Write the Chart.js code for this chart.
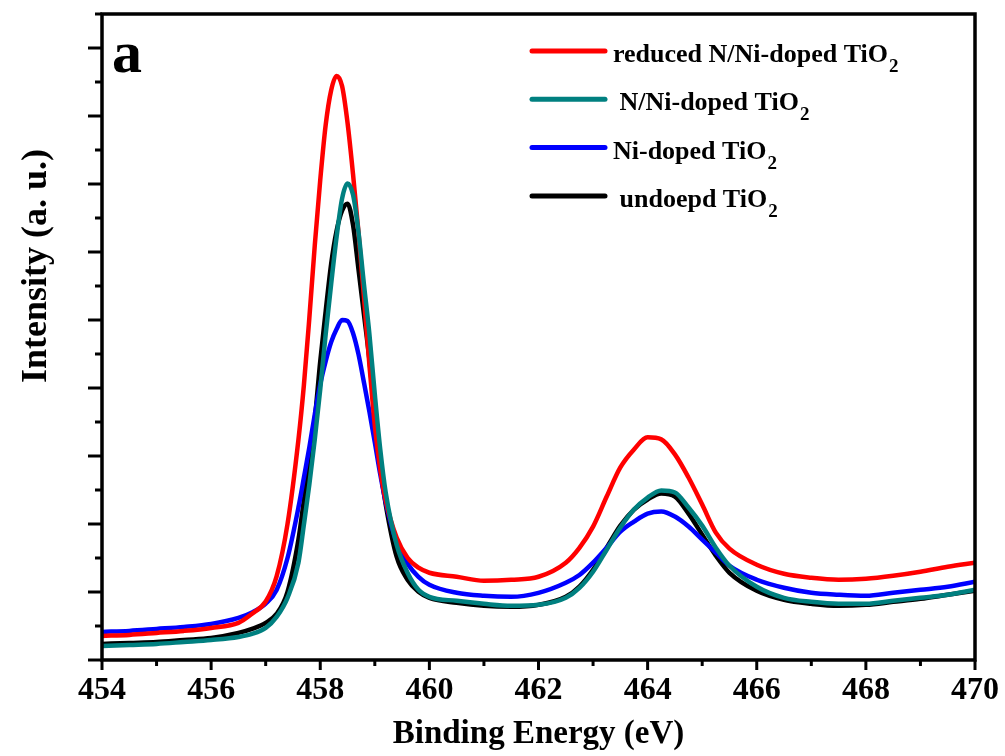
<!DOCTYPE html>
<html>
<head>
<meta charset="utf-8">
<script src="https://cdn.jsdelivr.net/npm/chart.js@4"></script>
<style>
html, body { margin: 0; padding: 0; background: #ffffff; }
#wrap { width: 1005px; height: 756px; position: relative; }
</style>
</head>
<body>
<div id="wrap"><canvas id="c"></canvas></div>
<script>
// Binding energy grid (eV)
const energies = [454, 454.5, 455, 455.5, 456, 456.5, 456.75, 457, 457.2, 457.4, 457.6, 457.7, 457.8, 457.9,
  458.0, 458.1, 458.2, 458.3, 458.4, 458.5, 458.6, 458.7, 458.8, 458.9,
  459.0, 459.1, 459.2, 459.4, 459.6, 459.8,
  460, 460.5, 461, 461.5, 462, 462.5, 462.75,
  463, 463.25, 463.5, 463.75, 464, 464.25, 464.5, 464.75, 465, 465.25, 465.5,
  466, 466.5, 467, 467.5, 468, 468.5, 469, 469.5, 470];

// Intensities (a. u.)
const reducedNNiDoped = [354, 369, 398, 428, 472, 545, 680, 860, 1230, 2000, 3240, 4040, 5030, 6100,
  7060, 7870, 8380, 8590, 8440, 7900, 7150, 6300, 5350, 4350,
  3450, 2800, 2350, 1799, 1504, 1357,
  1283, 1224, 1165, 1180, 1224, 1431, 1650,
  1962, 2404, 2832, 3097, 3274, 3245, 3024, 2684, 2286, 1873, 1637,
  1401, 1268, 1209, 1180, 1195, 1239, 1298, 1372, 1431];

const nNiDoped = [206, 221, 236, 265, 295, 339, 383, 472, 634, 914, 1431, 1990, 2581, 3245,
  3982, 4793, 5530, 6225, 6785, 7006, 6844, 6298, 5530, 4800,
  3909, 3097, 2463, 1696, 1283, 1032,
  929, 870, 826, 796, 811, 914, 1060,
  1298, 1622, 1947, 2212, 2389, 2493, 2463, 2242, 1976, 1652, 1386,
  1077, 914, 855, 826, 826, 870, 914, 959, 1032];

const niDoped = [413, 428, 457, 487, 531, 620, 700, 830, 1030, 1500, 2242, 2680, 3127, 3614,
  4056, 4395, 4675, 4867, 5000, 4985, 4808, 4498, 4085, 3658,
  3201, 2729, 2316, 1726, 1416, 1224,
  1106, 988, 944, 929, 988, 1136, 1250,
  1431, 1652, 1888, 2035, 2153, 2183, 2109, 1962, 1770, 1578, 1386,
  1180, 1062, 988, 959, 944, 988, 1032, 1077, 1150];

const undoped = [236, 251, 265, 295, 324, 398, 457, 546, 678, 1003, 1770, 2350, 2920, 3540,
  4395, 5133, 5826, 6313, 6608, 6711, 6401, 5752, 5088, 4425,
  3614, 2832, 2286, 1519, 1180, 1003,
  914, 841, 796, 782, 811, 929, 1080,
  1327, 1652, 1976, 2212, 2360, 2448, 2404, 2153, 1844, 1534, 1283,
  1018, 885, 826, 796, 811, 855, 900, 959, 1018];

const seriesLabels = ['reduced N/Ni-doped TiO\u2082', ' N/Ni-doped TiO\u2082', 'Ni-doped TiO\u2082', ' undoepd TiO\u2082'];
const seriesColors = ['#ff0000', '#008080', '#0000ff', '#000000'];
const seriesValues = [reducedNNiDoped, nNiDoped, niDoped, undoped];
const drawOrder = [2, 1, 3, 4];

const xTitle = 'Binding Energy (eV)';
const yTitle = 'Intensity (a. u.)';
const panelLetter = 'a';

const SERIF = '"Liberation Serif", "Times New Roman", serif';

const decor = {
  id: 'decor',
  afterDatasetsDraw(chart) {
    const ctx = chart.ctx;
    const ca = chart.chartArea;
    const xs = chart.scales.x, ys = chart.scales.y;
    ctx.save();
    ctx.strokeStyle = '#000';
    ctx.lineCap = 'butt';
    // frame
    ctx.lineWidth = 3.5;
    ctx.strokeRect(ca.left, ca.top, ca.right - ca.left, ca.bottom - ca.top);
    // x ticks (outward)
    ctx.lineWidth = 3;
    xs.ticks.forEach(t => {
      const px = xs.getPixelForValue(t.value);
      const len = (Math.round(t.value) % 2 === 0) ? 10 : 6;
      ctx.beginPath();
      ctx.moveTo(px, ca.bottom);
      ctx.lineTo(px, ca.bottom + len);
      ctx.stroke();
    });
    // y ticks (outward)
    ys.ticks.forEach(t => {
      const py = ys.getPixelForValue(t.value);
      const len = (Math.round(t.value) % 1000 === 0) ? 14 : 7;
      ctx.beginPath();
      ctx.moveTo(ca.left - len, py);
      ctx.lineTo(ca.left, py);
      ctx.stroke();
    });
    // panel letter
    ctx.fillStyle = '#000';
    ctx.font = 'bold 60px ' + SERIF;
    ctx.textAlign = 'left';
    ctx.textBaseline = 'alphabetic';
    ctx.fillText(panelLetter, ca.left + 10, ca.top + 58);
    // y title
    ctx.save();
    ctx.translate(46, 266);
    ctx.rotate(-Math.PI / 2);
    ctx.font = 'bold 36px ' + SERIF;
    ctx.textAlign = 'center';
    ctx.textBaseline = 'alphabetic';
    ctx.fillText(yTitle, 0, 0);
    ctx.restore();
    // legend
    const lx0 = ca.left + 430, lx1 = ca.left + 503, tx = ca.left + 511;
    chart.data.datasets.forEach((ds, i) => {
      const y = ca.top + 37 + i * 48.3;
      ctx.strokeStyle = ds.borderColor;
      ctx.lineWidth = 5;
      ctx.lineCap = 'round';
      ctx.beginPath();
      ctx.moveTo(lx0, y);
      ctx.lineTo(lx1, y);
      ctx.stroke();
      const parts = ds.label.split('\u2082');
      ctx.fillStyle = '#000';
      ctx.font = 'bold 26px ' + SERIF;
      ctx.textAlign = 'left';
      ctx.textBaseline = 'alphabetic';
      ctx.fillText(parts[0], tx, y + 11);
      const w = ctx.measureText(parts[0]).width;
      ctx.font = 'bold 19px ' + SERIF;
      ctx.fillText('2', tx + w + 1, y + 21);
    });
    ctx.restore();
  }
};

const datasets = seriesValues.map((vals, i) => ({
  label: seriesLabels[i],
  data: energies.map((e, j) => ({ x: e, y: vals[j] })),
  borderColor: seriesColors[i],
  backgroundColor: seriesColors[i],
  borderWidth: 4.5,
  pointRadius: 0,
  fill: false,
  cubicInterpolationMode: 'monotone',
  order: drawOrder[i]
}));

new Chart(document.getElementById('c'), {
  type: 'line',
  data: { datasets },
  plugins: [decor],
  options: {
    responsive: true,
    maintainAspectRatio: false,
    devicePixelRatio: 1,
    animation: false,
    events: [],
    layout: { padding: { left: 102, right: 30, top: 14, bottom: 0 } },
    plugins: { legend: { display: false }, tooltip: { enabled: false } },
    scales: {
      x: {
        type: 'linear',
        min: 454, max: 470,
        grid: { display: false, drawTicks: false },
        border: { display: false },
        ticks: {
          stepSize: 1,
          autoSkip: false,
          maxRotation: 0,
          padding: 12,
          color: '#000',
          font: { family: SERIF, size: 32, weight: 'bold' },
          callback: v => (Math.round(v) % 2 === 0 ? String(v) : '')
        },
        title: {
          display: true,
          text: xTitle,
          color: '#000',
          padding: 2,
          font: { family: SERIF, size: 33, weight: 'bold' }
        },
        afterFit: s => { s.height = 96; s.paddingLeft = 0; s.paddingRight = 0; }
      },
      y: {
        type: 'linear',
        min: 0, max: 9500,
        grid: { display: false, drawTicks: false },
        border: { display: false },
        ticks: { display: false, stepSize: 500 },
        afterFit: s => { s.width = 0; s.paddingTop = 0; s.paddingBottom = 0; }
      }
    }
  }
});
</script>
</body>
</html>
